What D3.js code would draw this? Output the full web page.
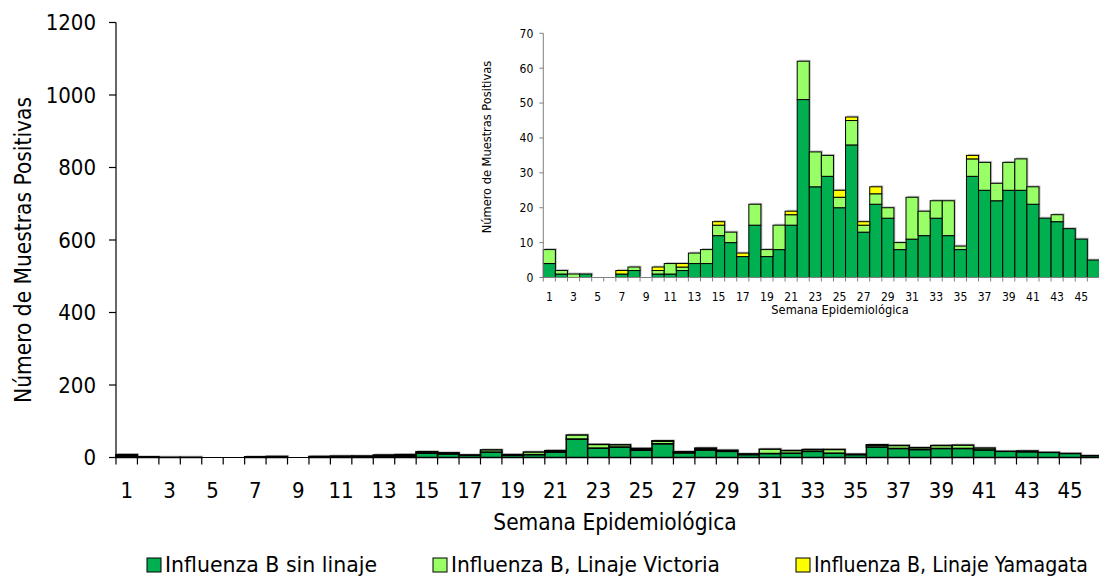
<!DOCTYPE html>
<html>
<head>
<meta charset="utf-8">
<script src="https://cdn.jsdelivr.net/npm/d3@7/dist/d3.min.js"></script>
<style>
html,body{margin:0;padding:0;background:#fff;}
svg{display:block;}
text{font-family:"DejaVu Sans Condensed","DejaVu Sans",sans-serif;fill:#000;}
</style>
</head>
<body>
<svg id="chart" width="1099" height="577"></svg>
<script>
// Data (semanas epidemiológicas 1..46)
const weeks = d3.range(1, 47);
const sinLinaje = [4,1,0,1,0,0,1,2,0,1,1,2,4,4,12,10,6,15,6,8,15,51,26,29,20,38,13,21,17,8,11,12,17,12,8,29,25,22,25,25,21,17,16,14,11,5];
const victoria  = [4,1,1,0,0,0,0,1,0,1,3,1,3,4,3,3,0,6,2,7,3,11,10,6,3,7,2,3,3,2,12,7,5,10,1,5,8,5,8,9,5,0,2,0,0,0];
const yamagata  = [0,0,0,0,0,0,1,0,0,1,0,1,0,0,1,0,1,0,0,0,1,0,0,0,2,1,1,2,0,0,0,0,0,0,0,1,0,0,0,0,0,0,0,0,0,0];
const seriesNames = ["Influenza B sin linaje","Influenza B, Linaje Victoria","Influenza B, Linaje Yamagata"];
const seriesColors = ["#00B050","#99FF66","#FFFF00"];
const mainYTicks = [0,200,400,600,800,1000,1200];
const insetYTicks = [0,10,20,30,40,50,60,70];
const xTickLabels = weeks.filter(w => w % 2 === 1);

const table = weeks.map((w,i) => ({week:w, s0:sinLinaje[i], s1:victoria[i], s2:yamagata[i]}));
const stack = d3.stack().keys(["s0","s1","s2"])(table);

const svg = d3.select("#chart");

function drawChart(g, opt) {
  const x = d3.scaleBand().domain(weeks).range([opt.x0, opt.x1]).padding(0);
  const y = d3.scaleLinear().domain(opt.yDomain).range([opt.y0, opt.y1]);

  // shadow
  const sh = g.append("g");
  stack.forEach((layer) => {
    sh.selectAll(null).data(layer.filter(d => d[1]-d[0] > 0)).enter().append("rect")
      .attr("x", d => x(d.data.week) + 1.5)
      .attr("y", d => y(d[1]) - 1.5)
      .attr("width", x.bandwidth())
      .attr("height", d => y(d[0]) - y(d[1]))
      .attr("fill", "#999").attr("opacity", 0.6);
  });
  stack.forEach((layer, k) => {
    g.append("g").selectAll("rect").data(layer.filter(d => d[1]-d[0] > 0)).enter().append("rect")
      .attr("x", d => x(d.data.week))
      .attr("y", d => y(d[1]))
      .attr("width", x.bandwidth())
      .attr("height", d => y(d[0]) - y(d[1]))
      .attr("fill", seriesColors[k])
      .attr("stroke", "#000").attr("stroke-width", opt.sw);
  });

  // y axis
  const ya = g.append("g");
  ya.append("line").attr("x1", opt.x0).attr("x2", opt.x0).attr("y1", opt.y0).attr("y2", opt.y1)
    .attr("stroke", opt.axisColor).attr("stroke-width", opt.axisW);
  ya.selectAll("line.t").data(opt.yTicks).enter().append("line").attr("class","t")
    .attr("x1", opt.x0 - opt.tick).attr("x2", opt.x0).attr("y1", d => y(d)).attr("y2", d => y(d))
    .attr("stroke", opt.axisColor).attr("stroke-width", opt.axisW);
  ya.selectAll("text").data(opt.yTicks).enter().append("text")
    .attr("x", opt.x0 - opt.labelGap).attr("y", d => y(d)).attr("dy", "0.36em")
    .attr("text-anchor", "end").style("font-size", opt.fs + "px").text(d => d);

  // x axis
  const xa = g.append("g");
  xa.append("line").attr("x1", opt.x0).attr("x2", opt.x1).attr("y1", opt.y0).attr("y2", opt.y0)
    .attr("stroke", opt.axisColor).attr("stroke-width", opt.axisW);
  const bounds = weeks.map(w => x(w)).concat([x(weeks[weeks.length-1]) + x.bandwidth()]);
  xa.selectAll("line.t").data(bounds).enter().append("line").attr("class","t")
    .attr("x1", d => d).attr("x2", d => d).attr("y1", opt.y0).attr("y2", opt.y0 + opt.tick)
    .attr("stroke", opt.axisColor).attr("stroke-width", opt.axisW);
  xa.selectAll("text").data(xTickLabels).enter().append("text")
    .attr("x", d => x(d) + x.bandwidth()/2).attr("y", opt.y0 + opt.xLabelDy)
    .attr("text-anchor", "middle").style("font-size", opt.fs + "px").text(d => d);

  g.append("text").attr("x", opt.xTitleX).attr("y", opt.xTitleY).attr("text-anchor","middle")
    .style("font-size", opt.titleFs + "px").text("Semana Epidemiológica");
  g.append("text").attr("transform", `translate(${opt.yTitleX},${opt.yTitleY}) rotate(-90)`)
    .attr("text-anchor","middle").style("font-size", opt.titleFs + "px").text("Número de Muestras Positivas");
}

drawChart(svg.append("g"), {
  x0: 116, x1: 116 + 46*21.44, y0: 457.5, y1: 22.5, yDomain: [0,1200], yTicks: mainYTicks,
  sw: 1.5, axisColor: "#000", axisW: 1.2, tick: 7, labelGap: 20, fs: 22, xLabelDy: 40.5,
  xTitleX: 615, xTitleY: 530, yTitleX: 31, yTitleY: 250, titleFs: 22.5
});

drawChart(svg.append("g"), {
  x0: 543.3, x1: 543.3 + 46*12.09, y0: 277.5, y1: 33.3, yDomain: [0,70], yTicks: insetYTicks,
  sw: 1, axisColor: "#808080", axisW: 1, tick: 4, labelGap: 10, fs: 12, xLabelDy: 23,
  xTitleX: 840, xTitleY: 314, yTitleX: 491, yTitleY: 147, titleFs: 12.7
});

// Legend
const legX = [147, 433, 796];
const legW = [212, 269, 274];
const leg = svg.append("g");
seriesNames.forEach((n, i) => {
  leg.append("rect").attr("x", legX[i]).attr("y", 558).attr("width", 14).attr("height", 14)
    .attr("fill", seriesColors[i]).attr("stroke", "#000").attr("stroke-width", 1);
  leg.append("text").attr("x", legX[i] + 18).attr("y", 572).style("font-size", "22px")
    .attr("textLength", legW[i]).attr("lengthAdjust", "spacingAndGlyphs").text(n);
});
</script>
</body>
</html>
